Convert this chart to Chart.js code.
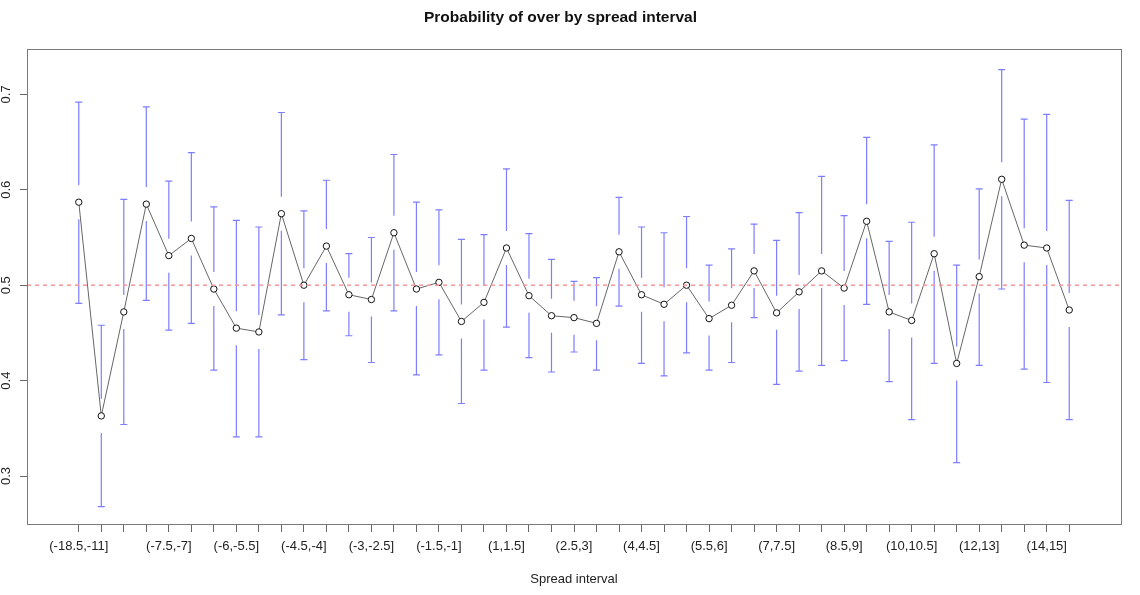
<!DOCTYPE html>
<html>
<head>
<meta charset="utf-8">
<script src="https://cdn.jsdelivr.net/npm/chart.js@4/dist/chart.umd.min.js"></script>
<style>
  html, body { margin: 0; padding: 0; background: #fff; }
  #wrap { width: 1140px; height: 595px; }
</style>
</head>
<body>
<div id="wrap"><canvas id="chart"></canvas></div>
<script>
const intervals = [
    '(-18.5,-11]', '(-11,-9]', '(-9,-8]', '(-8,-7.5]', '(-7.5,-7]', '(-7,-6.5]', '(-6.5,-6]',
    '(-6,-5.5]', '(-5.5,-5]', '(-5,-4.5]', '(-4.5,-4]', '(-4,-3.5]', '(-3.5,-3]', '(-3,-2.5]',
    '(-2.5,-2]', '(-2,-1.5]', '(-1.5,-1]', '(-1,0]', '(0,1]', '(1,1.5]', '(1.5,2]', '(2,2.5]',
    '(2.5,3]', '(3,3.5]', '(3.5,4]', '(4,4.5]', '(4.5,5]', '(5,5.5]', '(5.5,6]', '(6,6.5]',
    '(6.5,7]', '(7,7.5]', '(7.5,8]', '(8,8.5]', '(8.5,9]', '(9,9.5]', '(9.5,10]', '(10,10.5]',
    '(10.5,11]', '(11,12]', '(12,13]', '(13,13.5]', '(13.5,14]', '(14,15]', '(15,21]'
];

const overProb = [
    0.587, 0.363, 0.472, 0.585, 0.531, 0.549, 0.496, 0.455, 0.451, 0.575, 0.500, 0.541,
    0.490, 0.485, 0.555, 0.496, 0.503, 0.462, 0.482, 0.539, 0.489, 0.468, 0.466, 0.460,
    0.535, 0.490, 0.480, 0.500, 0.465, 0.479, 0.515, 0.471, 0.493, 0.515, 0.497, 0.567,
    0.472, 0.463, 0.533, 0.418, 0.509, 0.611, 0.542, 0.539, 0.474
];

const ciUpper = [
    0.692, 0.458, 0.590, 0.687, 0.609, 0.639, 0.582, 0.568, 0.561, 0.681, 0.578, 0.610,
    0.533, 0.550, 0.637, 0.587, 0.579, 0.548, 0.553, 0.622, 0.554, 0.527, 0.504, 0.508,
    0.592, 0.561, 0.555, 0.572, 0.521, 0.538, 0.564, 0.547, 0.576, 0.614, 0.573, 0.655,
    0.546, 0.566, 0.647, 0.521, 0.601, 0.726, 0.674, 0.679, 0.589
];

const ciLower = [
    0.481, 0.268, 0.354, 0.484, 0.453, 0.460, 0.411, 0.341, 0.341, 0.469, 0.422, 0.473,
    0.447, 0.419, 0.473, 0.406, 0.427, 0.376, 0.411, 0.456, 0.424, 0.409, 0.430, 0.411,
    0.478, 0.418, 0.405, 0.429, 0.411, 0.419, 0.466, 0.396, 0.410, 0.416, 0.421, 0.480,
    0.399, 0.359, 0.418, 0.314, 0.416, 0.496, 0.412, 0.398, 0.359
];

// подписи, которые видны на оси (остальные R пропустил из-за наложения)
const shownLabels = [0, 4, 7, 10, 13, 16, 19, 22, 25, 28, 31, 34, 37, 40, 43];

const yTicks = [0.3, 0.4, 0.5, 0.6, 0.7];
const refLine = 0.5;

const FONT = '"Liberation Sans", Arial, Helvetica, sans-serif';

// вертикальные доверительные интервалы с разрывом вокруг точки
const errorBars = {
    id: 'errorBars',
    beforeDatasetsDraw(chart) {
        const { ctx, scales: { x, y } } = chart;
        const gap = 17, cap = 3.5;
        ctx.save();
        ctx.strokeStyle = '#7d7dff';
        ctx.lineWidth = 1.2;
        ctx.beginPath();
        overProb.forEach((v, i) => {
            const px = x.getPixelForValue(i);
            const py = y.getPixelForValue(v);
            const top = y.getPixelForValue(ciUpper[i]);
            const bot = y.getPixelForValue(ciLower[i]);
            if (py - gap > top) { ctx.moveTo(px, py - gap); ctx.lineTo(px, top); }
            if (py + gap < bot) { ctx.moveTo(px, py + gap); ctx.lineTo(px, bot); }
            ctx.moveTo(px - cap, top); ctx.lineTo(px + cap, top);
            ctx.moveTo(px - cap, bot); ctx.lineTo(px + cap, bot);
        });
        ctx.stroke();
        ctx.restore();
    }
};

// пунктир на 0.5 и рамка графика
const refAndBox = {
    id: 'refAndBox',
    afterDatasetsDraw(chart) {
        const { ctx, chartArea: a, scales: { y } } = chart;
        const py = y.getPixelForValue(refLine);
        ctx.save();
        ctx.strokeStyle = 'rgb(255, 150, 150)';
        ctx.lineWidth = 1.5;
        ctx.setLineDash([4, 4]);
        ctx.beginPath();
        ctx.moveTo(a.left, py);
        ctx.lineTo(a.right, py);
        ctx.stroke();
        ctx.setLineDash([]);
        ctx.lineWidth = 1;
        ctx.strokeStyle = '#7a7a7a';
        ctx.strokeRect(Math.round(a.left) + 0.5, Math.round(a.top) + 0.5,
            Math.round(a.right - a.left), Math.round(a.bottom - a.top));
        ctx.restore();
    }
};

new Chart(document.getElementById('chart'), {
    type: 'line',
    data: {
        datasets: [{
            data: overProb.map((v, i) => ({ x: i, y: v })),
            borderColor: '#666',
            borderWidth: 1,
            pointRadius: 3.2,
            pointBorderColor: '#111',
            pointBackgroundColor: '#fff',
            pointBorderWidth: 1,
            tension: 0
        }]
    },
    options: {
        responsive: true,
        maintainAspectRatio: false,
        animation: false,
        layout: { padding: { left: 0, right: 19, top: 0, bottom: 0 } },
        plugins: {
            legend: { display: false },
            tooltip: { enabled: false },
            title: {
                display: true,
                text: 'Probability of over by spread interval',
                color: '#111',
                font: { family: FONT, size: 15.5, weight: 'bold', lineHeight: 1.2 },
                padding: { top: 8, bottom: 22 }
            }
        },
        scales: {
            x: {
                type: 'linear',
                min: -2.3,
                max: 46.3,
                afterBuildTicks: s => { s.ticks = intervals.map((_, i) => ({ value: i })); },
                afterFit: s => { s.height = 71; },
                ticks: {
                    autoSkip: false,
                    maxRotation: 0,
                    minRotation: 0,
                    padding: 7,
                    color: '#222',
                    font: { family: FONT, size: 13 },
                    callback: (v, i) => (shownLabels.includes(i) ? intervals[i] : '')
                },
                grid: { drawOnChartArea: false, tickLength: 8, color: '#666' },
                border: { display: false },
                title: {
                    display: true,
                    text: 'Spread interval',
                    color: '#222',
                    font: { family: FONT, size: 13, lineHeight: 1.2 },
                    padding: { top: 0, bottom: 8 }
                }
            },
            y: {
                min: 0.2497,
                max: 0.748,
                afterBuildTicks: s => { s.ticks = yTicks.map(v => ({ value: v })); },
                afterFit: s => { s.width = 27; },
                ticks: {
                    minRotation: 90,
                    maxRotation: 90,
                    crossAlign: 'center',
                    padding: 5,
                    color: '#222',
                    font: { family: FONT, size: 13 },
                    callback: v => v.toFixed(1)
                },
                grid: { drawOnChartArea: false, tickLength: 7, color: '#666' },
                border: { display: false }
            }
        }
    },
    plugins: [errorBars, refAndBox]
});
</script>
</body>
</html>
